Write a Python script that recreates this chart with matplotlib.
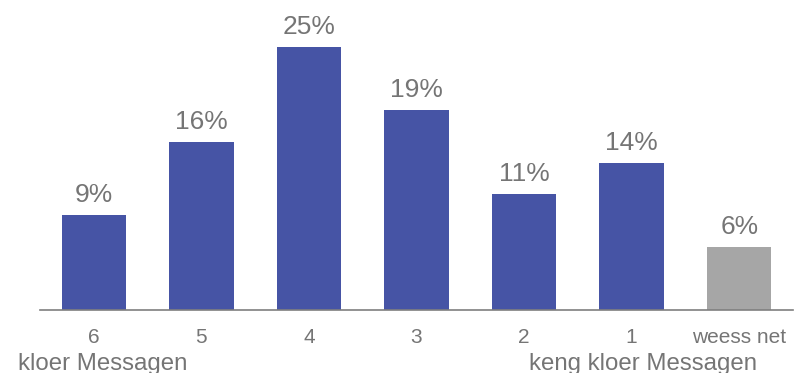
import matplotlib
matplotlib.use("Agg")
import matplotlib.pyplot as plt

categories = ["6", "5", "4", "3", "2", "1", "weess net"]
values = [9, 16, 25, 19, 11, 14, 6]
labels = ["9%", "16%", "25%", "19%", "11%", "14%", "6%"]
colors = ["#4654A5"] * 6 + ["#A6A6A6"]
left_note = "kloer Messagen"
right_note = "keng kloer Messagen"

plt.rcParams["font.family"] = ["Liberation Sans", "DejaVu Sans"]
text_color = "#757575"

fig = plt.figure(figsize=(7.95, 3.73), dpi=100)
ax = fig.add_axes([40 / 795, 63 / 373, 753 / 795, 310 / 373])

x = list(range(len(categories)))
bars = ax.bar(x, values, width=0.6, color=colors)
for b, lab in zip(bars, labels):
    ax.annotate(lab, (b.get_x() + b.get_width() / 2, b.get_height()),
                xytext=(0, 6), textcoords="offset points",
                ha="center", va="bottom", fontsize=19, color=text_color)

ax.set_xlim(-0.5, 6.5)
ax.set_ylim(0, 29.5)
ax.set_xticks(x)
ax.set_xticklabels(categories, fontsize=15, color=text_color)
ax.tick_params(axis="x", length=0, pad=13)
ax.set_yticks([])
for s in ["top", "right", "left"]:
    ax.spines[s].set_visible(False)
ax.spines["bottom"].set_color("#7F7F7F")
ax.spines["bottom"].set_linewidth(1.2)

fig.text(18 / 795, 1 - 370 / 373, left_note, ha="left", va="baseline",
         fontsize=17.3, color=text_color)
fig.text(643 / 795, 1 - 370 / 373, right_note, ha="center", va="baseline",
         fontsize=17.3, color=text_color)

fig.savefig("out.png", dpi=100)
